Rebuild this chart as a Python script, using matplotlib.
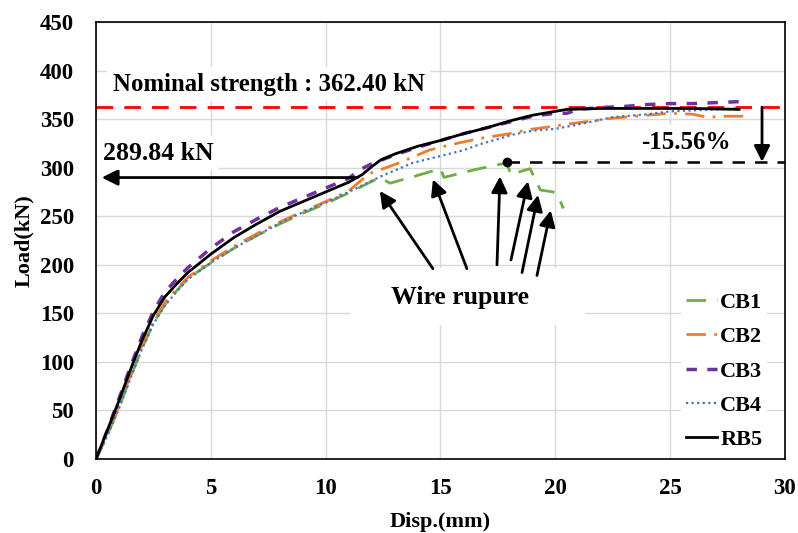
import numpy as np
import matplotlib
matplotlib.use("Agg")
import matplotlib.pyplot as plt
from matplotlib.patches import Rectangle

plt.rcParams['font.family'] = ['Liberation Serif', 'DejaVu Serif']
plt.rcParams['font.weight'] = 'bold'

# load-displacement curves
rb5_x = [0, 0.5, 1.0, 1.5, 2.0, 2.5, 3.0, 3.5, 4.0, 5.0, 6.0, 7.0, 8.0, 9.0, 10.0,
         11.0, 11.6, 12.0, 12.4, 13.0, 14.0, 15.0, 16.0, 17.0, 18.0, 19.0, 20.0,
         20.5, 22.0, 24.0, 26.0, 28.0]
rb5_y = [0, 30, 60, 92, 122, 148, 167, 180, 192, 211, 228, 242, 255, 265, 275,
         285, 293, 301, 308, 314, 322, 328, 335, 341, 348, 354, 358,
         360, 361, 361, 361, 360]

cb3_x = [0, 0.5, 1.0, 1.5, 2.0, 2.5, 3.0, 3.5, 4.0, 5.0, 6.0, 7.0, 8.0, 9.0, 10.0,
         11.0, 11.5, 12.0, 13.0, 14.0, 15.0, 16.0, 17.0, 18.0, 19.0, 20.0, 20.5,
         21.0, 22.0, 23.0, 24.0, 25.0, 26.0, 27.0, 28.0]
cb3_y = [0, 30, 62, 95, 126, 152, 172, 185, 197, 217, 234, 247, 259, 269, 279,
         289, 298, 304, 313, 321, 328, 335, 341, 347, 353, 356, 356,
         360, 362, 363, 365, 366, 366, 367, 368]

cb2_x = [0, 0.5, 1.0, 1.5, 2.0, 2.5, 3.0, 3.5, 4.0, 5.0, 6.0, 7.0, 8.0, 9.0, 10.0,
         11.0, 11.9, 12.4, 13.2, 14.5, 15.5, 16.7, 18.0, 18.8, 20.0, 20.9, 22.5,
         24.0, 25.0, 26.0, 26.6, 27.5, 28.2]
cb2_y = [0, 26, 55, 86, 117, 142, 161, 175, 187, 204, 219, 232, 244, 255, 265,
         276, 294, 298, 305, 318, 324, 330, 335, 339, 343, 346, 351,
         354, 356, 355, 352, 353, 353]

cb4_x = [0, 0.5, 1.0, 1.5, 2.0, 2.5, 3.0, 3.5, 4.0, 5.0, 6.0, 7.0, 8.0, 9.0, 10.0,
         11.0, 12.4, 13.8, 15.0, 16.0, 16.7, 18.15, 19.0, 20.0, 20.9, 22.5, 24.0,
         25.0, 26.0, 27.0, 28.0]
cb4_y = [0, 24, 52, 83, 113, 139, 158, 172, 185, 202, 217, 230, 243, 254, 264,
         275, 291, 305, 312, 318, 324, 334, 338, 340, 344, 352, 355,
         358, 359, 360, 361]

cb1_x = [0, 0.5, 1.0, 1.5, 2.0, 2.5, 3.0, 3.5, 4.0, 5.0, 6.0, 7.0, 8.0, 9.0, 10.0,
         11.0, 12.36, 12.8, 14.0, 15.0, 15.15, 16.5, 17.9, 18.05, 18.9, 19.35,
         19.9, 20.1, 20.35]
cb1_y = [0, 25, 53, 84, 114, 140, 159, 173, 186, 202, 217, 230, 242, 253, 263,
         274, 290, 284, 292, 299, 290, 298, 305, 293, 299, 277,
         275, 272, 258]

nominal = 362.40
peak_x, peak_y = 17.9, 306
ref_load = 289.84

# wire rupture arrows: (tail, head)
rupture_tails = [(14.67, 196), (16.15, 196), (17.46, 200), (18.07, 205), (18.55, 192), (19.2, 189)]
rupture_heads = [(12.36, 276), (14.67, 288), (17.59, 291), (18.81, 286), (19.25, 272), (19.8, 256)]

fig = plt.figure(figsize=(7.98, 5.33), dpi=100)
ax = fig.add_axes([0.1203, 0.1388, 0.8634, 0.8199])

ax.set_xlim(0, 30)
ax.set_ylim(0, 450)
ax.set_xticks(np.arange(0, 31, 5))
ax.set_yticks(np.arange(0, 451, 50))
ax.grid(True, color='#d9d9d9', lw=1)
ax.set_axisbelow(True)
for s in ax.spines.values():
    s.set_color('black')
    s.set_linewidth(1.2)
    s.set_zorder(8)
ax.tick_params(length=0, labelsize=16.5)
ax.tick_params(axis='y', pad=16)
ax.tick_params(axis='x', pad=14)
ax.set_xlabel('Disp.(mm)', fontsize=16, fontweight='bold', labelpad=9)
ax.set_ylabel('Load(kN)', fontsize=16, fontweight='bold', labelpad=4)

# white box behind "Wire rupure"
ax.add_patch(Rectangle((0.369, 0.307), 0.341, 0.13, transform=ax.transAxes,
                       facecolor='white', edgecolor='none', zorder=1.5))

ax.axhline(nominal, color='#ff0000', lw=2, dashes=(6, 4), zorder=2)

ax.plot(cb1_x, cb1_y, color='#70ad47', lw=2, dashes=(7, 4), label='CB1', zorder=3)
ax.plot(cb2_x, cb2_y, color='#ed7d31', lw=2, dashes=(7, 3, 1, 3), label='CB2', zorder=3)
ax.plot(cb3_x, cb3_y, color='#7030a0', lw=2.5, dashes=(3, 3), label='CB3', zorder=3)
ax.plot(cb4_x, cb4_y, color='#4472c4', lw=1.6, dashes=(1, 1.5), label='CB4', zorder=3)
ax.plot(rb5_x, rb5_y, color='black', lw=2, label='RB5', zorder=4)

ax.plot([peak_x, 30], [peak_y, peak_y], color='black', lw=1.8, dashes=(5, 4), zorder=4)
ax.plot([peak_x], [peak_y], 'o', color='black', ms=6, zorder=5)

arrow = dict(arrowstyle='-|>', color='black', lw=2, mutation_scale=24, shrinkA=0, shrinkB=0)
ax.annotate('', xy=(0.25, ref_load), xytext=(11.4, ref_load), arrowprops=arrow, zorder=5)
ax.annotate('', xy=(29.0, peak_y), xytext=(29.0, nominal), arrowprops=arrow, zorder=5)
for t, h in zip(rupture_tails, rupture_heads):
    ax.annotate('', xy=h, xytext=t, arrowprops=arrow, zorder=5)

box = dict(facecolor='white', edgecolor='none', pad=4)
ax.text(0.72, 386, 'Nominal strength : 362.40 kN', fontsize=17.8, fontweight='bold',
        va='center', ha='left', bbox=box, zorder=6)
ax.text(0.3, 315, '289.84 kN', fontsize=18.5, fontweight='bold',
        va='center', ha='left', bbox=box, zorder=6)
ax.text(25.7, 326, '-15.56%', fontsize=18, fontweight='bold',
        va='center', ha='center', bbox=box, zorder=6)
ax.text(15.85, 166, 'Wire rupure', fontsize=18.5, fontweight='bold',
        va='center', ha='center', zorder=6)

leg = ax.legend(loc='lower right', fontsize=16, frameon=True, fancybox=False,
                edgecolor='none', facecolor='white', framealpha=1,
                handlelength=1.4, handletextpad=0.15, labelspacing=0.62,
                borderaxespad=0.1, borderpad=0.2, bbox_to_anchor=(0.977, 0.005))
for t in leg.get_texts():
    t.set_fontweight('bold')

fig.savefig('out.png', dpi=100)
